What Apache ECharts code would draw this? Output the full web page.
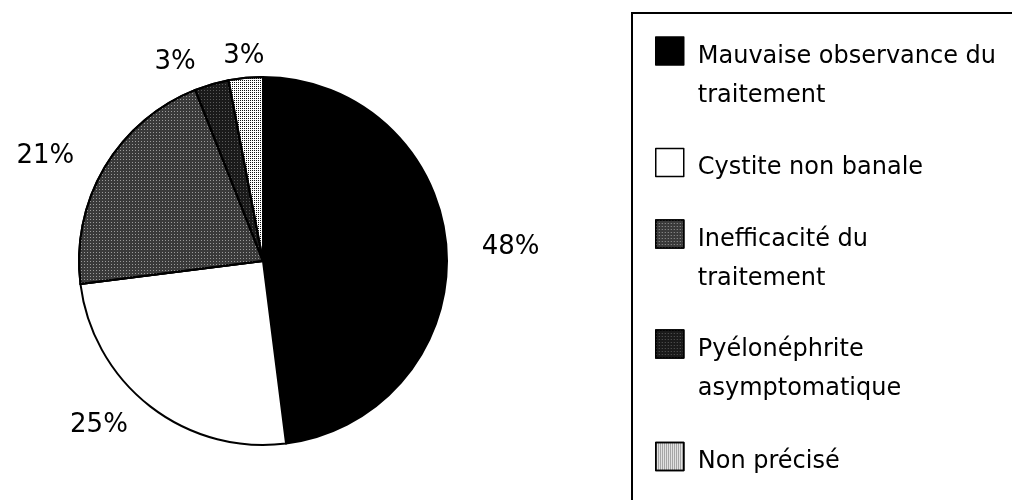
<!DOCTYPE html>
<html><head><meta charset="utf-8">
<script src="https://cdn.jsdelivr.net/npm/echarts@6/dist/echarts.min.js"></script>
<style>html,body{margin:0;padding:0;background:#fff}#c{width:1012px;height:500px}</style>
</head><body><div id="c"></div>
<script>
// ---- data ----
const categories = [
  'Mauvaise observance du traitement',
  'Cystite non banale',
  'Inefficacité du traitement',
  'Pyélonéphrite asymptomatique',
  'Non précisé'
];
const values = [48, 25, 21, 3, 3];
const legendLabels = [
  ['Mauvaise observance du', 'traitement'],
  ['Cystite non banale'],
  ['Inefficacité du', 'traitement'],
  ['Pyélonéphrite', 'asymptomatique'],
  ['Non précisé']
];

// ---- styling ----
const FONT = 'DejaVu Sans';
const style = {
  colors: ['#000000', '#ffffff', '#3a3a3a', '#1a1a1a', '#ffffff'],
  decals: [
    null,
    null,
    { symbol: 'rect', symbolSize: 1, dashArrayX: [1, 2], dashArrayY: [1, 2], color: '#9a9a9a' },
    { symbol: 'rect', symbolSize: 1, dashArrayX: [1, 2], dashArrayY: [1, 2], color: '#5a5a5a' },
    { symbol: 'rect', symbolSize: 1, dashArrayX: [1, 1], dashArrayY: [1, 1], color: '#111111' }
  ],
  labelNudges: [[44, -1], [-39, 3], [-42, -1], [-31, -3], [0, -2]],
  legendTops: [11.5, 142.5, 194.5, 304.5, 436.5]
};

const chart = echarts.init(document.getElementById('c'), null, { renderer: 'canvas' });

const seriesData = categories.map((name, i) => {
  const itemStyle = { color: style.colors[i] };
  if (style.decals[i]) itemStyle.decal = style.decals[i];
  return { name, value: values[i], itemStyle };
});

const legends = categories.map((name, i) => {
  const lines = legendLabels[i];
  const spacer = lines.length > 1 ? 'sp2' : 'sp1';
  return {
    orient: 'vertical',
    left: 655,
    top: style.legendTops[i],
    padding: 0,
    itemWidth: 28,
    itemHeight: 28,
    icon: 'rect',
    selectedMode: false,
    data: [name],
    formatter: () => '{' + spacer + '| }\n' + lines.map(l => '{t|' + l + '}').join('\n'),
    itemStyle: { borderColor: '#000', borderWidth: 1.5 },
    textStyle: {
      fontFamily: FONT, fontSize: 24, color: '#000',
      padding: [0, 0, 0, 9],
      rich: {
        t: { fontFamily: FONT, fontSize: 24, color: '#000', lineHeight: 39 },
        sp2: { fontSize: 1, lineHeight: 51 },
        sp1: { fontSize: 1, lineHeight: 10 }
      }
    }
  };
});

chart.setOption({
  animation: false,
  backgroundColor: '#fff',
  legend: legends,
  graphic: [{
    type: 'rect', z: -1,
    shape: { x: 632, y: 13, width: 420, height: 520 },
    style: { fill: 'none', stroke: '#000', lineWidth: 2 }
  }],
  series: [{
    type: 'pie',
    center: [263, 261],
    radius: 184,
    startAngle: 90,
    clockwise: true,
    avoidLabelOverlap: false,
    silent: true,
    itemStyle: { borderColor: '#000', borderWidth: 2 },
    label: {
      show: true, position: 'outside', distanceToLabelLine: 0,
      fontFamily: FONT, fontSize: 26, color: '#000',
      formatter: p => p.value + '%'
    },
    labelLine: { show: false, length: 20, length2: 0 },
    labelLayout: p => ({
      align: 'center', verticalAlign: 'middle',
      dx: style.labelNudges[p.dataIndex][0],
      dy: style.labelNudges[p.dataIndex][1]
    }),
    emphasis: { disabled: true },
    data: seriesData
  }]
});
</script>
</body></html>
